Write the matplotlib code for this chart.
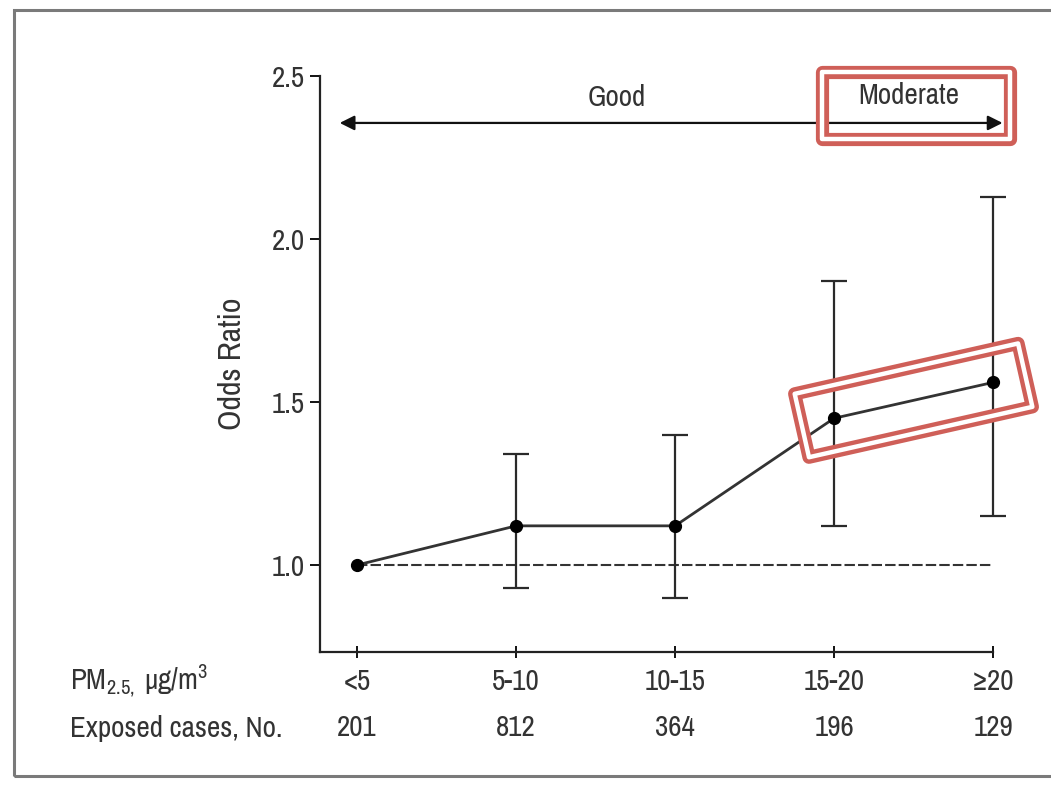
import numpy as np
import matplotlib
matplotlib.use("Agg")
import matplotlib.pyplot as plt
from matplotlib import font_manager
from matplotlib.patches import Rectangle, Polygon

# ---- data ----
pm_labels = ["<5", "5-10", "10-15", "15-20", "\u226520"]
exposed_cases = ["201", "812", "364", "196", "129"]
odds_ratio = [1.00, 1.12, 1.12, 1.45, 1.56]
ci_low = [1.00, 0.93, 0.90, 1.12, 1.15]
ci_high = [1.00, 1.34, 1.40, 1.87, 2.13]
y_ticks = [1.0, 1.5, 2.0, 2.5]

names = {f.name for f in font_manager.fontManager.ttflist}
fam = next(n for n in ["Liberation Sans Narrow", "Archivo Narrow", "Roboto Condensed",
                       "Liberation Sans"] if n in names)
plt.rcParams["font.family"] = [fam, "DejaVu Sans"]
plt.rcParams["mathtext.fontset"] = "custom"
plt.rcParams["mathtext.rm"] = fam
plt.rcParams["mathtext.it"] = fam
plt.rcParams["mathtext.bf"] = fam

TXT = "#333333"
RED = "#cf5f58"
fs = 21

fig = plt.figure(figsize=(10.51, 7.88), dpi=100)
ax = fig.add_axes([320/1051, 1-652/788, (993-320)/1051, (652-76)/788])

x = np.arange(len(pm_labels))
y = np.array(odds_ratio)
lo = y - np.array(ci_low)
hi = np.array(ci_high) - y

# reference dashed line
ax.plot([x[0], x[-1]], [1.0, 1.0], ls=(0, (5, 1.5)), color="#333333", lw=1.5, zorder=1)
# error bars (first category is the reference, no interval)
eb = ax.errorbar(x[1:], y[1:], yerr=[lo[1:], hi[1:]], fmt="none", ecolor="#2a2a2a",
                 elinewidth=1.6, capsize=9.5, capthick=1.6, zorder=2)
for art in eb.lines[1] + eb.lines[2]:
    art.set_clip_on(False)
ax.plot(x, y, color="#333333", lw=2.0, zorder=3, clip_on=False)
ax.plot(x, y, "o", color="black", ms=8.5, zorder=4, clip_on=False)

ax.set_xlim(-0.234, 4.0)
ax.set_ylim(0.733, 2.5)
ax.set_yticks(y_ticks)
ax.set_yticklabels([f"{v:.1f}" for v in y_ticks], fontsize=fs, color=TXT)
ax.set_xticks(x)
ax.set_xticklabels([])
ax.tick_params(axis="y", direction="out", length=7, width=1.3, pad=4)
ax.tick_params(axis="x", direction="inout", length=8, width=1.3)
for s in ["top", "right"]:
    ax.spines[s].set_visible(False)
for s in ["left", "bottom"]:
    ax.spines[s].set_linewidth(1.6)
    ax.spines[s].set_color("#222222")

ax.set_ylabel("Odds Ratio", fontsize=23, color=TXT)
ax.yaxis.set_label_coords(-0.11, 0.5)

# bottom labels rows
for xi, lab, n in zip(x, pm_labels, exposed_cases):
    ax.annotate(lab, (xi, 0), xycoords=("data", "axes fraction"), xytext=(0, -30),
                textcoords="offset pixels", ha="center", va="center", fontsize=fs, color=TXT)
    ax.annotate(n, (xi, 0), xycoords=("data", "axes fraction"), xytext=(0, -76),
                textcoords="offset pixels", ha="center", va="center", fontsize=fs, color=TXT)
fig.text(70/1051, 1-681/788, r"PM$_{2.5,}$ $\mu$g/m$^{3}$", fontsize=fs, color=TXT,
         ha="left", va="center")
fig.text(70/1051, 1-728/788, "Exposed cases, No.", fontsize=fs, color=TXT,
         ha="left", va="center")

# top arrow
arrow_y = 2.356
ax.annotate("", xy=(-0.11, arrow_y), xytext=(4.06, arrow_y),
            arrowprops=dict(arrowstyle="<|-|>", color="#111111", lw=1.6,
                            mutation_scale=22, shrinkA=0, shrinkB=0),
            annotation_clip=False)
ax.text(1.63, 2.435, "Good", fontsize=fs, color=TXT, ha="center", va="center")
ax.text(3.47, 2.44, "Moderate", fontsize=fs, color=TXT, ha="center", va="center",
        clip_on=False)

# frame around the figure
fig.patches.append(Rectangle((14/1051, 1-776/788), 1.2, (776-10)/788, transform=fig.transFigure,
                             fill=False, edgecolor="#7a7a7a", lw=2.2, clip_on=False))

def double_box(corners_fig):
    for col, lw in ((RED, 9.5), ("white", 3.2)):
        fig.patches.append(Polygon(corners_fig, closed=True, fill=False, edgecolor=col,
                                   lw=lw, joinstyle="round", transform=fig.transFigure,
                                   zorder=10))

# highlight box around "Moderate"
bx0, bx1 = 0.746, 1.026
by0, by1 = 0.891, 1.007
pts = ax.transAxes.transform([(bx0, by0), (bx1, by0), (bx1, by1), (bx0, by1)])
double_box(fig.transFigure.inverted().transform(pts))

# highlight rotated box around the last segment
fig.canvas.draw()
p1 = ax.transData.transform((x[3], y[3]))
p2 = ax.transData.transform((x[4], y[4]))
c = (p1 + p2) / 2
d = (p2 - p1) / np.linalg.norm(p2 - p1)
nvec = np.array([-d[1], d[0]])
L, H = 229 / 2, 65 / 2
corners = [c - d*L - nvec*H, c + d*L - nvec*H, c + d*L + nvec*H, c - d*L + nvec*H]
double_box(fig.transFigure.inverted().transform(corners))

fig.savefig("out.png", dpi=100)
